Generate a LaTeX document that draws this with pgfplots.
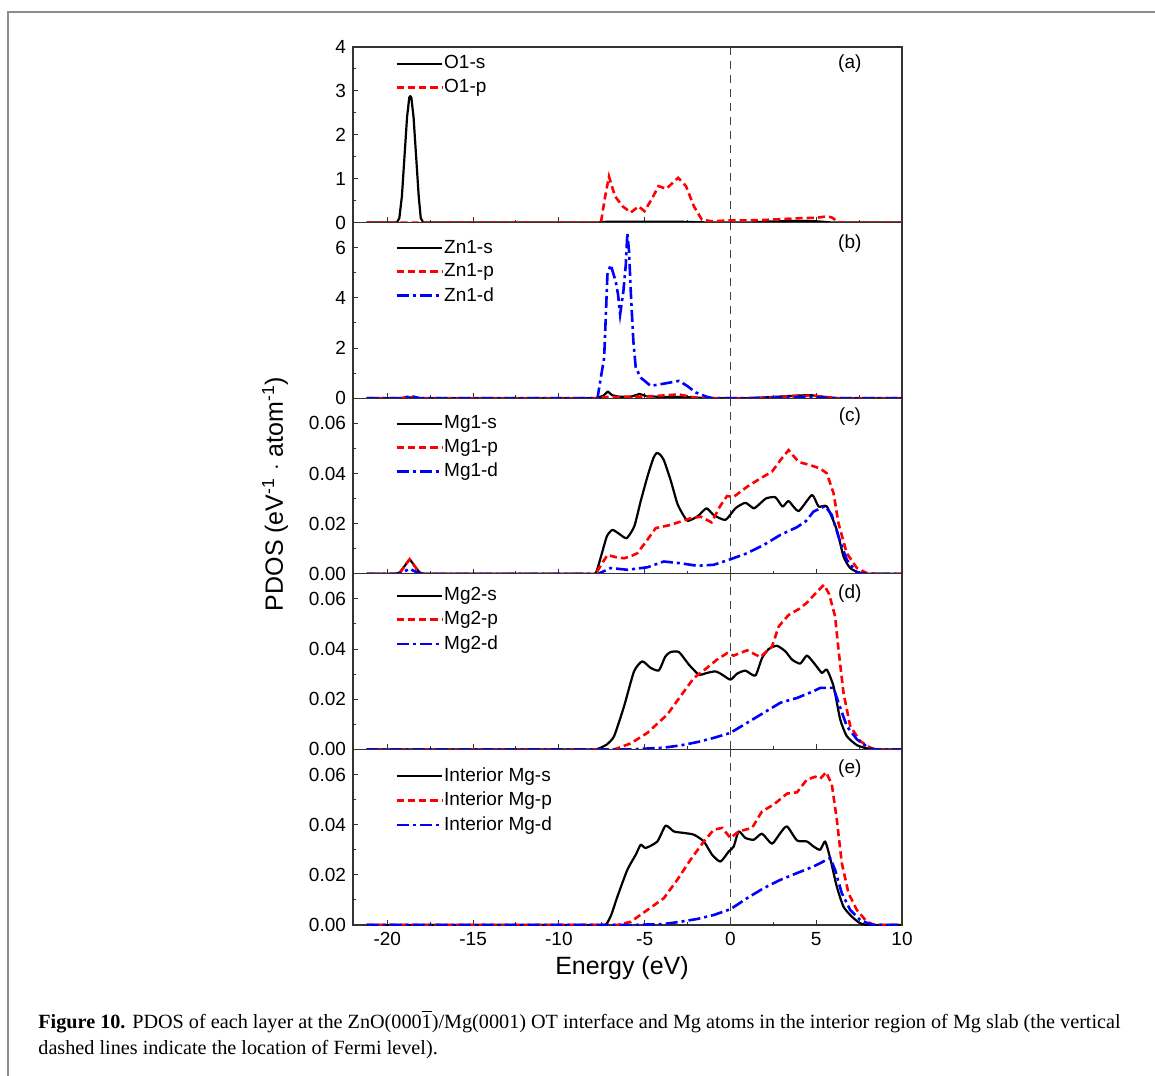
\documentclass[border=0pt]{standalone}
\usepackage{fontspec}
\setmainfont{Liberation Sans}
\newfontfamily\capfont{Liberation Serif}
\usepackage{pgfplots}
\pgfplotsset{compat=1.18}
\pgfplotsset{
  pd/.style={
    scale only axis, width=274.5pt, height=87.8pt,
    xmin=-22, xmax=10,
    xtick={-20,-15,...,10}, minor x tick num=1,
    tick align=inside, xtick pos=bottom, ytick pos=left,
    major tick length=2.6pt, minor tick length=1.5pt,
    axis line style={line width=0.6pt, black!80},
    every tick/.style={line width=0.5pt, black!80},
    ticklabel style={font=\fontsize{9.5}{11}\selectfont},
    /pgf/number format/assume math mode=true,
    scaled y ticks=false,
    xticklabels={},
    clip=true,
    legend cell align=left,
    legend style={draw=none, fill=none, anchor=north west, inner sep=0pt,
      font=\fontsize{9.5}{11}\selectfont, row sep=2.6pt,
      nodes={inner sep=0.6pt}},
    legend image code/.code={\draw[##1] (0pt,0pt) -- (22.5pt,0pt);},
  },
  yfix/.style={yticklabel style={/pgf/number format/fixed, /pgf/number format/fixed zerofill, /pgf/number format/precision=2}},
  ss/.style={black, line width=1.1pt, line join=round},
  sm/.style={smooth, tension=0.35},
  pp/.style={red, line width=1.3pt, dash pattern=on 3.6pt off 2pt},
  dd/.style={blue, line width=1.3pt, dash pattern=on 6pt off 2pt on 1.5pt off 2pt},
  fermi/.style={black!75, line width=0.7pt, dash pattern=on 4pt off 3pt},
}
\begin{document}
\begin{tikzpicture}
\useasboundingbox (0,0) rectangle (577.5pt,-537.5pt);
\draw[black!45, line width=0.8pt] (4pt,-540pt) -- (4pt,-6pt) -- (580pt,-6pt);

% (a)
\begin{axis}[pd, at={(176.5pt,-23.5pt)}, anchor=north west,
  ymin=0, ymax=4, ytick={0,1,2,3,4}, minor y tick num=1,
  legend style={at={(0.0765,0.96)}}]
\addplot[fermi, forget plot] coordinates {(0,0) (0,4)};
\addplot[ss] coordinates {(-21.2,0) (-19.45,0) (-19.3,0.1) (-19.15,0.6) (-19.0,1.5) (-18.85,2.4) (-18.72,2.85) (-18.66,2.88) (-18.6,2.85) (-18.47,2.4) (-18.32,1.5) (-18.17,0.6) (-18.05,0.1) (-17.9,0) (-7.8,0) (-7.2,0.02) (-5,0.02) (-3,0.02) (-2,0.01) (-1,0) (1,0) (2,0.02) (4,0.04) (5,0.03) (6,0) (10,0)};
\addlegendentry{O1-s}
\addplot[pp] coordinates {(-21.2,0) (-7.55,0) (-7.3,0.6) (-7.08,1.05) (-6.73,0.60) (-6.28,0.37) (-5.81,0.23) (-5.35,0.37) (-5.01,0.26) (-4.55,0.56) (-4.20,0.83) (-3.74,0.77) (-3.05,1.02) (-2.59,0.83) (-2.13,0.37) (-1.67,0.07) (-1.10,0.03) (0,0.05) (1,0.05) (2,0.06) (3,0.08) (4,0.1) (5,0.11) (5.6,0.14) (5.9,0.12) (6.3,0.01) (6.6,0) (10,0)};
\addlegendentry{O1-p}
\node[font=\fontsize{9.5}{11}\selectfont] at (rel axis cs:0.905,0.905) {(a)};
\end{axis}

% (b)
\begin{axis}[pd, at={(176.5pt,-111.3pt)}, anchor=north west,
  ymin=0, ymax=7, ytick={0,2,4,6}, minor y tick num=1,
  legend style={at={(0.0765,0.91)}}]
\addplot[fermi, forget plot] coordinates {(0,0) (0,7)};
\addplot[ss] coordinates {(-21.2,0) (-19.2,0) (-18.7,0.03) (-18.2,0) (-7.8,0) (-7.4,0.1) (-7.15,0.27) (-6.9,0.12) (-6.5,0.06) (-5.8,0.06) (-5.3,0.17) (-4.9,0.08) (-4.0,0.05) (-3.0,0.05) (-2.0,0.03) (-1.5,0) (1,0) (2,0.03) (3,0.07) (4,0.11) (4.7,0.12) (5.5,0.05) (6.3,0) (10,0)};
\addlegendentry{Zn1-s}
\addplot[pp] coordinates {(-21.2,0) (-19.2,0) (-18.7,0.07) (-18.2,0) (-7.8,0) (-7.3,0.05) (-6.5,0.05) (-5.5,0.06) (-4.5,0.08) (-3.5,0.13) (-3.0,0.15) (-2.5,0.08) (-2.0,0.01) (-1.5,0) (1,0) (2,0.02) (3,0.06) (4,0.09) (4.8,0.1) (5.5,0.05) (6.3,0) (10,0)};
\addlegendentry{Zn1-p}
\addplot[dd] coordinates {(-21.2,0) (-19.2,0) (-18.6,0.08) (-18.1,0) (-7.75,0) (-7.36,1.62) (-7.17,4.93) (-6.98,5.32) (-6.69,4.66) (-6.55,4.13) (-6.43,3.34) (-6.24,4.26) (-6.10,5.32) (-6.01,6.58) (-5.91,5.85) (-5.81,4.26) (-5.66,2.28) (-5.52,1.22) (-5.23,0.82) (-4.65,0.49) (-3.88,0.58) (-3.00,0.69) (-2.52,0.49) (-2.03,0.23) (-1.36,0.05) (-1.0,0) (1,0) (3,0.03) (4.5,0.05) (6,0) (10,0)};
\addlegendentry{Zn1-d}
\node[font=\fontsize{9.5}{11}\selectfont] at (rel axis cs:0.905,0.88) {(b)};
\end{axis}

% (c)
\begin{axis}[pd, yfix, at={(176.5pt,-199.1pt)}, anchor=north west,
  ymin=0, ymax=0.07, ytick={0,0.02,0.04,0.06}, minor y tick num=1,
  legend style={at={(0.0765,0.91)}}]
\addplot[fermi, forget plot] coordinates {(0,0) (0,0.07)};
\addplot[ss, sm] coordinates {(-21.2,0) (-20,0) (-19.6,0) (-19.3,0.0005) (-19.0,0.003) (-18.7,0.0056) (-18.4,0.003) (-18.1,0.0005) (-17.8,0) (-17.4,0) (-9,0) (-8.3,0) (-7.85,0.0003) (-7.5,0.008) (-7.2,0.015) (-6.88,0.0175) (-6.5,0.016) (-6.05,0.0142) (-5.6,0.019) (-5.23,0.029) (-4.84,0.0387) (-4.5,0.046) (-4.30,0.0482) (-4.1,0.0475) (-3.88,0.0453) (-3.49,0.0374) (-3.10,0.0281) (-2.8,0.024) (-2.48,0.0211) (-1.9,0.023) (-1.40,0.0261) (-0.97,0.0234) (-0.29,0.0215) (0.29,0.0261) (0.87,0.0283) (1.36,0.0261) (1.74,0.0281) (2.09,0.0301) (2.62,0.0305) (3.04,0.0268) (3.39,0.0290) (3.97,0.0250) (4.75,0.0314) (5.14,0.0268) (5.62,0.0268) (6.20,0.0175) (6.59,0.0069) (6.98,0.0023) (7.56,0.0002) (8,0) (8.5,0) (10,0)};
\addlegendentry{Mg1-s}
\addplot[pp] coordinates {(-21.2,0) (-19.3,0) (-19.0,0.003) (-18.7,0.0058) (-18.4,0.003) (-18.1,0) (-7.85,0) (-7.5,0.004) (-7.17,0.0075) (-6.6,0.0065) (-6.20,0.0062) (-5.8,0.007) (-5.43,0.0082) (-4.9,0.013) (-4.36,0.0182) (-3.49,0.0195) (-2.33,0.0221) (-1.74,0.0228) (-1.1,0.0205) (-0.6,0.027) (-0.2,0.031) (0.19,0.0307) (0.97,0.0347) (1.74,0.0380) (2.42,0.0407) (2.91,0.0453) (3.39,0.0493) (3.97,0.0446) (4.65,0.0433) (5.23,0.0420) (5.62,0.0400) (6.01,0.0321) (6.30,0.0201) (6.78,0.0082) (7.37,0.0023) (7.95,0.0003) (8.5,0) (10,0)};
\addlegendentry{Mg1-p}
\addplot[dd] coordinates {(-21.2,0) (-19.3,0) (-18.7,0.002) (-18.1,0) (-7.7,0) (-6.98,0.0023) (-6.01,0.0016) (-4.84,0.0026) (-3.88,0.0049) (-2.91,0.0042) (-1.94,0.0032) (-0.97,0.0036) (0,0.0058) (0.97,0.0082) (1.94,0.0115) (2.91,0.0155) (3.88,0.0186) (4.4,0.021) (4.84,0.0248) (5.52,0.0270) (5.91,0.0234) (6.30,0.0148) (6.78,0.0056) (7.37,0.0005) (8,0) (10,0)};
\addlegendentry{Mg1-d}
\node[font=\fontsize{9.5}{11}\selectfont] at (rel axis cs:0.905,0.895) {(c)};
\end{axis}

% (d)
\begin{axis}[pd, yfix, at={(176.5pt,-286.9pt)}, anchor=north west,
  ymin=0, ymax=0.07, ytick={0,0.02,0.04,0.06}, minor y tick num=1,
  legend style={at={(0.0765,0.93)}}]
\addplot[fermi, forget plot] coordinates {(0,0) (0,0.07)};
\addplot[ss, sm] coordinates {(-21.2,0) (-10,0) (-8.6,0) (-8.2,0) (-7.8,0.0001) (-7.56,0.0007) (-7.2,0.002) (-6.78,0.0053) (-6.20,0.0172) (-5.62,0.0311) (-5.14,0.0351) (-4.65,0.0325) (-4.17,0.0315) (-3.8,0.037) (-3.49,0.0388) (-3.00,0.0388) (-2.42,0.0338) (-1.84,0.0298) (-1.36,0.0305) (-0.87,0.0311) (-0.48,0.0298) (0,0.0278) (0.39,0.0302) (0.87,0.0314) (1.45,0.0294) (1.84,0.0364) (2.23,0.0400) (2.71,0.0413) (3.20,0.0391) (3.59,0.0358) (4.07,0.0342) (4.46,0.0374) (4.94,0.0338) (5.33,0.0305) (5.62,0.0318) (6.01,0.0252) (6.40,0.0119) (6.78,0.0053) (7.37,0.0017) (7.95,0.0004) (8.3,0) (8.8,0) (10,0)};
\addlegendentry{Mg2-s}
\addplot[pp] coordinates {(-21.2,0) (-6.78,0) (-5.81,0.0024) (-4.84,0.0066) (-3.68,0.0139) (-2.91,0.0212) (-2.13,0.0285) (-1.55,0.0315) (-0.78,0.0358) (-0.19,0.0384) (0.19,0.0374) (0.97,0.0395) (1.74,0.0368) (2.42,0.0410) (2.81,0.0490) (3.39,0.0536) (4.0,0.056) (4.46,0.0585) (5.0,0.0625) (5.45,0.0656) (5.75,0.062) (6.10,0.0530) (6.30,0.0397) (6.59,0.0225) (6.98,0.0093) (7.56,0.0033) (8.14,0.0007) (8.5,0) (10,0)};
\addlegendentry{Mg2-p}
\addplot[dd] coordinates {(-21.2,0) (-5.81,0) (-3.88,0.0007) (-2.91,0.0016) (-1.94,0.0029) (-0.97,0.0046) (0,0.0066) (0.97,0.0106) (1.94,0.0146) (2.91,0.0186) (3.88,0.0205) (4.84,0.0232) (5.23,0.0245) (6.01,0.0245) (6.30,0.0186) (6.78,0.0093) (7.37,0.0040) (7.95,0.0011) (8.3,0) (10,0)};
\addlegendentry{Mg2-d}
\node[font=\fontsize{9.5}{11}\selectfont] at (rel axis cs:0.905,0.89) {(d)};
\end{axis}

% (e)
\begin{axis}[pd, yfix, at={(176.5pt,-374.7pt)}, anchor=north west,
  ymin=0, ymax=0.07, ytick={0,0.02,0.04,0.06}, minor y tick num=1,
  xticklabels={-20,-15,-10,-5,0,5,10},
  legend style={at={(0.0765,0.905)}}]
\addplot[fermi, forget plot] coordinates {(0,0) (0,0.07)};
\addplot[ss, sm] coordinates {(-21.2,0) (-10,0) (-8,0) (-7.6,0) (-7.25,0.0002) (-6.95,0.004) (-6.59,0.0113) (-6.01,0.0220) (-5.52,0.0280) (-5.23,0.0320) (-4.94,0.0307) (-4.26,0.0333) (-3.78,0.0396) (-3.30,0.0373) (-2.71,0.0367) (-2.13,0.0360) (-1.55,0.0333) (-1.07,0.0280) (-0.58,0.0253) (-0.10,0.0293) (0.19,0.0313) (0.48,0.0373) (0.87,0.0347) (1.36,0.0340) (1.84,0.0364) (2.42,0.0324) (2.91,0.0367) (3.30,0.0393) (3.88,0.0337) (4.46,0.0333) (4.84,0.0313) (5.23,0.0300) (5.52,0.0333) (5.81,0.0267) (6.20,0.0153) (6.59,0.0073) (7.08,0.0033) (7.56,0.0007) (8,0) (8.5,0) (10,0)};
\addlegendentry{Interior Mg-s}
\addplot[pp] coordinates {(-21.2,0) (-6.59,0) (-5.81,0.0013) (-4.84,0.0060) (-3.88,0.0107) (-3.10,0.0180) (-2.33,0.0260) (-1.55,0.0333) (-0.97,0.0380) (-0.48,0.0387) (0,0.0347) (0.48,0.0373) (1.26,0.0387) (1.84,0.0453) (2.52,0.0480) (3.30,0.0524) (3.88,0.0529) (4.46,0.0580) (4.94,0.0591) (5.23,0.0583) (5.58,0.0609) (5.91,0.0560) (6.20,0.0420) (6.49,0.0247) (6.88,0.0127) (7.37,0.0060) (7.95,0.0013) (8.4,0) (10,0)};
\addlegendentry{Interior Mg-p}
\addplot[dd] coordinates {(-21.2,0) (-5.81,0) (-3.88,0.0004) (-2.91,0.0013) (-1.94,0.0024) (-0.97,0.0040) (0,0.0063) (0.97,0.0107) (1.94,0.0147) (2.91,0.0180) (3.88,0.0207) (4.84,0.0233) (5.81,0.0267) (6.10,0.0220) (6.49,0.0127) (6.98,0.0060) (7.56,0.0020) (8.14,0.0003) (8.5,0) (10,0)};
\addlegendentry{Interior Mg-d}
\node[font=\fontsize{9.5}{11}\selectfont] at (rel axis cs:0.905,0.89) {(e)};
\end{axis}

\node[font=\fontsize{12.5}{14}\selectfont] at (311pt,-484pt) {Energy (eV)};
\node[font=\fontsize{12.5}{14}\selectfont, rotate=90] at (137.5pt,-247pt) {PDOS (eV\textsuperscript{-1} $\cdot$ atom\textsuperscript{-1})};

\node[anchor=base west, inner sep=0pt, font=\capfont\fontsize{10.1}{12}\selectfont] at (19pt,-514pt) {\textbf{Figure 10.} PDOS of each layer at the ZnO(000$\overline{\mbox{1}}$)/Mg(0001) OT interface and Mg atoms in the interior region of Mg slab (the vertical};
\node[anchor=base west, inner sep=0pt, font=\capfont\fontsize{10.1}{12}\selectfont] at (19pt,-527pt) {dashed lines indicate the location of Fermi level).};
\end{tikzpicture}
\end{document}
